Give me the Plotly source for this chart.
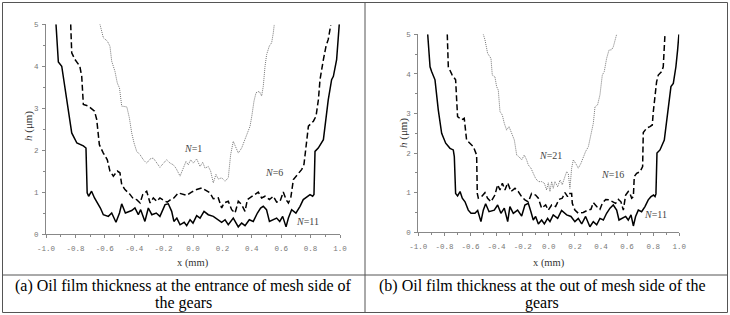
import plotly.graph_objects as go

# ---------------- data ----------------
# Panel (a): entrance of mesh side
a_n11_x = [-0.932, -0.916, -0.893, -0.86, -0.825, -0.79, -0.746, -0.728, -0.72, -0.71, -0.69, -0.67, -0.65, -0.63, -0.61,
           -0.576, -0.553, -0.524, -0.50, -0.485, -0.46, -0.417, -0.395, -0.372, -0.356, -0.327, -0.304, -0.28, -0.25,
           -0.225, -0.19, -0.168, -0.145, -0.13, -0.11, -0.088, -0.06, -0.043, -0.02, 0.0, 0.025, 0.048, 0.075, 0.104,
           0.138, 0.172, 0.195, 0.218, 0.24, 0.274, 0.308, 0.331, 0.354, 0.383, 0.41, 0.438, 0.46, 0.478, 0.50, 0.52,
           0.542, 0.569, 0.59, 0.61, 0.633, 0.649, 0.671, 0.70, 0.728, 0.75, 0.773, 0.796, 0.814, 0.823, 0.83, 0.852,
           0.887, 0.92, 0.943, 0.955, 0.977, 0.99, 0.995]
a_n11_y = [5.0, 4.1, 4.0, 3.2, 2.41, 2.17, 2.1, 2.05, 0.98, 0.9, 1.02, 0.86, 0.74, 0.62, 0.46,
           0.42, 0.5, 0.28, 0.5, 0.72, 0.5, 0.56, 0.62, 0.46, 0.58, 0.30, 0.62, 0.46, 0.5,
           0.42, 0.70, 0.72, 0.54, 0.30, 0.38, 0.22, 0.28, 0.20, 0.34, 0.26, 0.44, 0.38, 0.54, 0.46,
           0.42, 0.34, 0.28, 0.34, 0.22, 0.38, 0.17, 0.26, 0.20, 0.34, 0.30, 0.5, 0.62, 0.66, 0.58, 0.30,
           0.34, 0.38, 0.30, 0.42, 0.17, 0.38, 0.58, 0.5, 0.66, 0.82, 0.88, 0.94, 0.90, 0.94, 1.97, 2.05,
           2.25, 3.2, 3.68, 3.76, 4.16, 4.64, 5.0]

a_n6_x = [-0.832, -0.825, -0.803, -0.77, -0.757, -0.746, -0.712, -0.67, -0.655, -0.637, -0.61, -0.583, -0.565, -0.542,
          -0.515, -0.497, -0.485, -0.463, -0.43, -0.406, -0.383, -0.36, -0.342, -0.315, -0.292, -0.27, -0.247, -0.225,
          -0.2, -0.175, -0.152, -0.13, -0.1, -0.07, -0.043, -0.01, 0.025, 0.06, 0.093, 0.116, 0.138, 0.172, 0.195,
          0.211, 0.24, 0.263, 0.286, 0.308, 0.331, 0.354, 0.37, 0.4, 0.42, 0.444, 0.467, 0.49, 0.52, 0.546, 0.569,
          0.592, 0.614, 0.633, 0.649, 0.665, 0.683, 0.71, 0.74, 0.755, 0.773, 0.785, 0.819, 0.837, 0.853, 0.864,
          0.887, 0.905, 0.92, 0.937]
a_n6_y = [5.0, 4.32, 4.16, 4.0, 3.76, 3.09, 3.05, 2.93, 2.73, 2.13, 1.93, 1.77, 1.5, 1.38,
          1.5, 1.46, 1.18, 1.06, 0.95, 0.84, 0.82, 0.74, 0.94, 1.02, 0.74, 0.86, 0.78, 0.86,
          0.80, 0.76, 0.82, 0.86, 0.98, 0.94, 0.92, 1.0, 1.06, 1.10, 1.04, 0.98, 0.84, 0.86, 0.62,
          0.74, 0.78, 0.58, 0.5, 0.78, 0.70, 0.54, 0.82, 0.90, 0.94, 1.0, 0.86, 0.90, 0.82, 0.90, 0.76,
          0.78, 1.0, 0.82, 0.74, 0.86, 1.3, 1.42, 1.54, 1.66, 2.25, 2.57, 2.69, 2.81, 3.2, 3.68,
          4.16, 4.48, 4.64, 4.98]

a_n1_x = [-0.633, -0.61, -0.583, -0.565, -0.553, -0.531, -0.515, -0.50, -0.485, -0.45, -0.433, -0.417, -0.401, -0.383,
          -0.36, -0.338, -0.315, -0.292, -0.27, -0.247, -0.225, -0.2, -0.18, -0.156, -0.134, -0.116, -0.088, -0.066,
          -0.048, -0.032, -0.016, 0.002, 0.025, 0.048, 0.066, 0.082, 0.104, 0.12, 0.138, 0.156, 0.172, 0.195, 0.218,
          0.24, 0.256, 0.274, 0.29, 0.308, 0.331, 0.354, 0.37, 0.388, 0.4, 0.415, 0.429, 0.451, 0.467, 0.478, 0.49,
          0.501, 0.519, 0.535, 0.546, 0.553]
a_n1_y = [5.0, 4.68, 4.6, 4.48, 4.12, 3.88, 3.6, 3.48, 3.05, 3.03, 2.77, 2.41, 2.17, 1.97,
          1.89, 1.77, 1.69, 1.79, 1.81, 1.69, 1.59, 1.69, 1.77, 1.69, 1.65, 1.57, 1.38, 1.57,
          1.73, 1.65, 1.77, 1.69, 1.79, 1.61, 1.71, 1.57, 1.61, 1.5, 1.22, 1.42, 1.31, 1.34, 1.26,
          1.34, 1.89, 2.21, 2.09, 1.93, 2.05, 2.25, 2.43, 2.57, 2.81, 3.17, 3.37, 3.40, 3.29, 3.52, 4.0,
          4.28, 4.48, 4.56, 4.79, 5.0]

# Panel (b): out of mesh side
b_n11_x = [-0.928, -0.91, -0.898, -0.872, -0.847, -0.821, -0.79, -0.757, -0.732, -0.724, -0.714, -0.699, -0.68, -0.663,
           -0.642, -0.617, -0.596, -0.566, -0.545, -0.52, -0.502, -0.484, -0.458, -0.418, -0.392, -0.367, -0.341,
           -0.315, -0.298, -0.272, -0.239, -0.208, -0.183, -0.157, -0.137, -0.119, -0.101, -0.08, -0.055, -0.034,
           -0.009, 0.009, 0.034, 0.068, 0.098, 0.137, 0.17, 0.2, 0.226, 0.252, 0.282, 0.315, 0.341, 0.367, 0.392,
           0.418, 0.443, 0.469, 0.494, 0.52, 0.538, 0.563, 0.589, 0.609, 0.63, 0.648, 0.665, 0.686, 0.711, 0.737,
           0.762, 0.783, 0.803, 0.814, 0.821, 0.829, 0.852, 0.885, 0.916, 0.936, 0.954, 0.974, 0.987, 0.997]
b_n11_y = [5.0, 4.18, 4.06, 3.85, 3.09, 2.5, 2.25, 2.12, 2.08, 1.91, 0.98, 0.92, 1.03, 0.86,
           0.77, 0.56, 0.48, 0.48, 0.55, 0.27, 0.56, 0.72, 0.52, 0.56, 0.69, 0.48, 0.61,
           0.27, 0.65, 0.48, 0.56, 0.41, 0.69, 0.73, 0.52, 0.31, 0.40, 0.21, 0.31, 0.21,
           0.35, 0.27, 0.44, 0.35, 0.55, 0.44, 0.40, 0.27, 0.35, 0.21, 0.40, 0.14, 0.27, 0.19, 0.35,
           0.31, 0.48, 0.61, 0.69, 0.56, 0.31, 0.35, 0.40, 0.31, 0.44, 0.16, 0.40, 0.56, 0.52, 0.65,
           0.82, 0.90, 0.94, 0.90, 0.97, 2.0, 2.08, 2.33, 3.17, 3.68, 3.76, 4.18, 4.6, 5.0]

b_n16_x = [-0.778, -0.77, -0.74, -0.714, -0.706, -0.699, -0.668, -0.648, -0.63, -0.604, -0.578, -0.553, -0.548, -0.54,
           -0.515, -0.489, -0.469, -0.443, -0.413, -0.392, -0.374, -0.356, -0.336, -0.315, -0.29, -0.259, -0.234,
           -0.208, -0.183, -0.157, -0.132, -0.101, -0.08, -0.055, -0.024, -0.004, 0.022, 0.052, 0.078, 0.103, 0.124,
           0.144, 0.155, 0.175, 0.18, 0.2, 0.226, 0.264, 0.298, 0.323, 0.341, 0.367, 0.392, 0.41, 0.436, 0.461,
           0.487, 0.512, 0.533, 0.553, 0.571, 0.589, 0.609, 0.622, 0.635, 0.648, 0.655, 0.673, 0.699, 0.719, 0.724,
           0.75, 0.775, 0.793, 0.801, 0.814, 0.826, 0.839, 0.865, 0.877, 0.885, 0.89]
b_n16_y = [5.0, 4.18, 3.97, 3.85, 3.34, 2.92, 2.84, 2.88, 2.33, 2.25, 2.16, 1.95, 0.98, 0.86,
           0.9, 1.0, 0.86, 0.77, 0.94, 1.2, 1.07, 1.24, 1.07, 1.25, 1.03, 1.11, 1.03,
           0.9, 0.82, 0.77, 0.98, 0.94, 0.86, 0.61, 0.69, 0.56, 0.69, 0.65, 0.83, 0.86, 1.0,
           0.9, 0.98, 0.98, 0.73, 0.56, 0.48, 0.5, 0.56, 0.58, 0.75, 0.65, 0.58, 0.73, 0.83, 0.82,
           0.77, 0.73, 0.83, 0.77, 0.56, 0.94, 1.03, 0.98, 0.86, 0.9, 1.41, 1.49, 1.53, 1.66, 2.52,
           2.63, 2.67, 2.71, 3.05, 3.51, 3.8, 3.97, 4.06, 4.18, 4.69, 4.98]

b_n21_x = [-0.502, -0.489, -0.469, -0.443, -0.433, -0.413, -0.4, -0.387, -0.374, -0.356, -0.341, -0.323, -0.305,
           -0.285, -0.264, -0.246, -0.229, -0.208, -0.188, -0.17, -0.157, -0.137, -0.119, -0.101, -0.08, -0.055,
           -0.034, -0.017, -0.004, 0.009, 0.022, 0.034, 0.047, 0.068, 0.086, 0.103, 0.124, 0.137, 0.149, 0.162,
           0.175, 0.188, 0.206, 0.226, 0.246, 0.264, 0.282, 0.303, 0.323, 0.341, 0.354, 0.374, 0.392, 0.41, 0.425,
           0.443, 0.461, 0.481, 0.494, 0.507, 0.52]
b_n21_y = [5.0, 4.86, 4.52, 4.39, 3.97, 3.93, 3.68, 3.59, 3.05, 2.96, 2.75, 2.58, 2.67,
           2.5, 2.33, 1.95, 1.91, 1.83, 1.95, 1.83, 1.7, 1.62, 1.49, 1.36, 1.28, 1.28,
           1.24, 1.07, 1.25, 1.03, 1.28, 1.11, 1.28, 1.15, 1.32, 1.2, 1.41, 1.53, 1.49, 1.11,
           1.62, 1.83, 1.74, 1.62, 1.74, 1.91, 2.04, 2.16, 2.46, 2.75, 3.17, 3.22, 3.47, 3.97, 4.06,
           4.39, 4.6, 4.61, 4.68, 4.86, 5.0]

x_tickvals = [-1.0, -0.8, -0.6, -0.4, -0.2, 0.0, 0.2, 0.4, 0.6, 0.8, 1.0]
x_ticktext = ["-1.0", "-0.8", "-0.6", "-0.4", "-0.2", "0.0", "0.2", "0.4", "0.6", "0.8", "1.0"]
y_tickvals = [0, 1, 2, 3, 4, 5]

labels_a = [("<i>N</i>=1", 0.0, 2.05), ("<i>N</i>=6", 0.55, 1.46), ("<i>N</i>=11", 0.78, 0.31)]
labels_b = [("<i>N</i>=21", 0.01, 1.95), ("<i>N</i>=16", 0.49, 1.45), ("<i>N</i>=11", 0.82, 0.46)]
caption_a = ["(a) Oil film thickness at the entrance of mesh side of", "the gears"]
caption_b = ["(b) Oil film thickness at the out of mesh side of the", "gears"]

# ---------------- figure ----------------
W, H = 730, 315
fig = go.Figure()

solid = dict(color="black", width=1.5)
dashed = dict(color="black", width=1.5, dash="6px,3px")
dotted = dict(color="#777777", width=1, dash="1px,1px")

for xs, ys, ln in [(a_n11_x, a_n11_y, solid), (a_n6_x, a_n6_y, dashed), (a_n1_x, a_n1_y, dotted)]:
    fig.add_trace(go.Scatter(x=xs, y=ys, mode="lines", line=ln, xaxis="x", yaxis="y",
                             showlegend=False, hoverinfo="skip"))
for xs, ys, ln in [(b_n11_x, b_n11_y, solid), (b_n16_x, b_n16_y, dashed), (b_n21_x, b_n21_y, dotted)]:
    fig.add_trace(go.Scatter(x=xs, y=ys, mode="lines", line=ln, xaxis="x2", yaxis="y2",
                             showlegend=False, hoverinfo="skip"))

tickfont = dict(family="Liberation Mono", size=7.5, color="#777777")

def xaxis(domain, anchor):
    return dict(domain=domain, anchor=anchor, range=[-1.0, 1.0], tickvals=x_tickvals, ticktext=x_ticktext,
                ticks="outside", ticklen=3, tickcolor="#888888", tickwidth=1, ticklabelstandoff=4,
                minor=dict(ticks="outside", dtick=0.1, tick0=0, ticklen=2, tickcolor="#888888"),
                showline=True, linecolor="#888888", linewidth=1, showgrid=False, zeroline=False,
                tickfont=tickfont, fixedrange=True, automargin=False)

def yaxis(domain, anchor):
    return dict(domain=domain, anchor=anchor, range=[0, 5], tickvals=y_tickvals,
                ticks="outside", ticklen=3, tickcolor="#888888", tickwidth=1, ticklabelstandoff=2,
                minor=dict(ticks="outside", dtick=0.5, tick0=0, ticklen=2, tickcolor="#888888"),
                showline=True, linecolor="#888888", linewidth=1, showgrid=False, zeroline=False,
                tickfont=tickfont, fixedrange=True, automargin=False)

fig.update_layout(
    width=W, height=H,
    margin=dict(l=0, r=0, t=0, b=0, pad=0),
    paper_bgcolor="white", plot_bgcolor="white",
    xaxis=xaxis([46 / W, 340 / W], "y"),
    yaxis=yaxis([1 - 234 / H, 1 - 24.3 / H], "x"),
    xaxis2=xaxis([418.3 / W, 679.3 / W], "y2"),
    yaxis2=yaxis([1 - 232.3 / H, 1 - 34.3 / H], "x2"),
)

ann = []
serif = "Liberation Serif"
for txt, x, y in labels_a:
    ann.append(dict(text=txt, x=x, y=y, xref="x", yref="y", showarrow=False, xanchor="center", yanchor="middle",
                    font=dict(family=serif, size=10, color="#444444")))
for txt, x, y in labels_b:
    ann.append(dict(text=txt, x=x, y=y, xref="x2", yref="y2", showarrow=False, xanchor="center", yanchor="middle",
                    font=dict(family=serif, size=10, color="#444444")))

# axis titles
for cx, cy in [(193, 263), (549, 263)]:
    ann.append(dict(text="x (mm)", x=cx / W, y=1 - cy / H, xref="paper", yref="paper", showarrow=False,
                    xanchor="center", yanchor="middle",
                    font=dict(family=serif, size=10.5, color="#333333")))
for cx, cy in [(28, 126), (403, 133)]:
    ann.append(dict(text="<i>h</i> (μm)", x=cx / W, y=1 - cy / H, xref="paper", yref="paper", showarrow=False,
                    xanchor="center", yanchor="middle",
                    textangle=-90, font=dict(family=serif, size=11, color="#333333")))

# captions (two lines each)
for cx, lines in [(183, caption_a), (542, caption_b)]:
    for cy, line in zip([285.5, 303], lines):
        ann.append(dict(text=line, x=cx / W, y=1 - cy / H, xref="paper", yref="paper", showarrow=False,
                        xanchor="center", yanchor="middle", borderpad=0,
                        font=dict(family=serif, size=16, color="black")))
fig.update_layout(annotations=ann)

# table borders
shp = []
lc = dict(color="#555555", width=1)
shp.append(dict(type="rect", xref="paper", yref="paper", x0=2.5 / W, x1=727.5 / W,
                y0=1 - 312.5 / H, y1=1 - 2.5 / H, line=lc))
shp.append(dict(type="line", xref="paper", yref="paper", x0=2.5 / W, x1=727.5 / W,
                y0=1 - 275 / H, y1=1 - 275 / H, line=lc))
shp.append(dict(type="line", xref="paper", yref="paper", x0=365 / W, x1=365 / W,
                y0=1 - 312.5 / H, y1=1 - 2.5 / H, line=lc))
fig.update_layout(shapes=shp)

fig.write_html("out.html", config={"displayModeBar": False},
               post_script="document.body.style.margin='0px';document.body.style.overflow='hidden';")
